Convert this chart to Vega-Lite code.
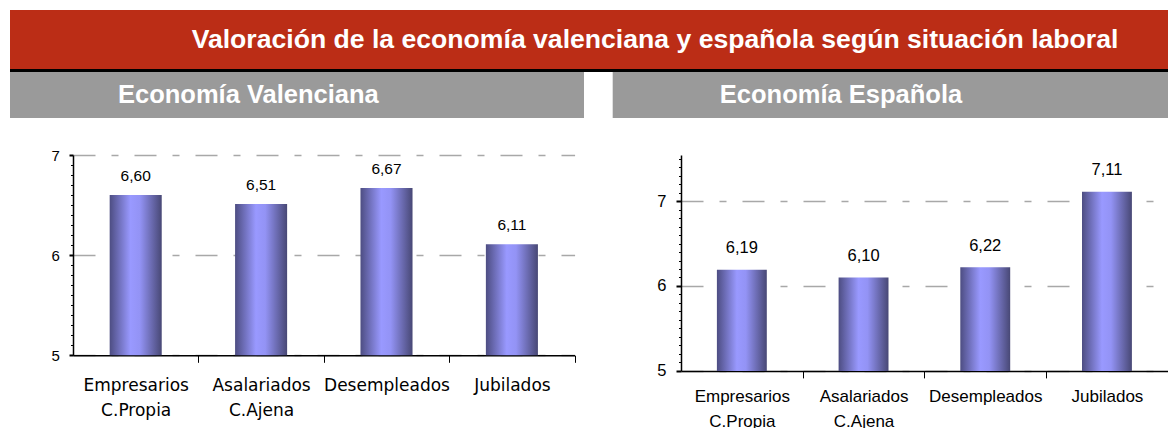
{
  "$schema": "https://vega.github.io/schema/vega-lite/v6.json",
  "padding": {"left": 10, "top": 10, "right": 0, "bottom": 0},
  "background": "white",
  "config": {"view": {"stroke": null}},
  "spacing": 0,
  "vconcat": [
    {
      "width": 1158, "height": 59,
      "view": {"fill": "#BB2D16", "stroke": null},
      "data": {"values": [{"t": "Valoración de la economía valenciana y española según situación laboral"}]},
      "mark": {"type": "text", "color": "white", "font": "Liberation Sans", "fontWeight": "bold", "fontSize": 26.6, "baseline": "alphabetic", "dx": 66, "dy": 8.8},
      "encoding": {"text": {"field": "t"}}
    },
    {
      "width": 1158, "height": 3,
      "view": {"fill": "#000000", "stroke": null},
      "data": {"values": []},
      "mark": {"type": "text", "text": ""},
      "encoding": {}
    },
    {
      "bounds": "flush",
      "spacing": 28.7,
      "hconcat": [
        {
          "width": 574, "height": 46,
          "view": {"fill": "#9A9A9A", "stroke": null},
          "data": {"values": [{"t": "Economía Valenciana"}]},
          "mark": {"type": "text", "color": "white", "font": "Liberation Sans", "fontWeight": "bold", "fontSize": 25.5, "align": "left", "baseline": "alphabetic", "dx": -179, "dy": 8.3},
          "encoding": {"text": {"field": "t"}}
        },
        {
          "width": 555.3, "height": 46,
          "view": {"fill": "#9A9A9A", "stroke": null},
          "data": {"values": [{"t": "Economía Española"}]},
          "mark": {"type": "text", "color": "white", "font": "Liberation Sans", "fontWeight": "bold", "fontSize": 25.5, "align": "left", "baseline": "alphabetic", "dx": -170.5, "dy": 8.3},
          "encoding": {"text": {"field": "t"}}
        }
      ]
    },
    {
      "width": 1, "height": 29.15,
      "view": {"fill": "transparent", "stroke": null},
      "data": {"values": []},
      "mark": {"type": "text", "text": ""},
      "encoding": {}
    },
    {
      "bounds": "flush",
      "spacing": 0,
      "hconcat": [
        {
          "width": 62.7, "height": 1,
          "view": {"fill": "transparent", "stroke": null},
          "data": {"values": []},
          "mark": {"type": "text", "text": ""},
          "encoding": {}
        },
        {
          "width": 501.6, "height": 200.3,
          "data": {"values": [
            {"cat": "Empresarios|C.Propia", "v": 6.60, "lab": "6,60"},
            {"cat": "Asalariados|C.Ajena", "v": 6.51, "lab": "6,51"},
            {"cat": "Desempleados", "v": 6.67, "lab": "6,67"},
            {"cat": "Jubilados", "v": 6.11, "lab": "6,11"}
          ]},
          "layer": [
            {
              "mark": {"type": "bar", "color": {"gradient": "linear", "x1": 0, "x2": 1, "y1": 0, "y2": 0, "stops": [{"offset": 0, "color": "#4d4d82"}, {"offset": 0.4, "color": "#9999ff"}, {"offset": 0.58, "color": "#9393f5"}, {"offset": 1, "color": "#484875"}]}},
              "encoding": {
                "x": {"field": "cat", "type": "nominal", "sort": null,
                  "scale": {"paddingInner": 0.585, "paddingOuter": 0.2925},
                  "axis": {"title": null, "labelExpr": "split(datum.label, '|')", "labelAngle": 0, "labelFont": "DejaVu Sans", "labelFontSize": 17, "labelColor": "#000000", "labelLineHeight": 25, "labelPadding": 15, "tickSize": 7, "tickColor": "#000000", "tickWidth": 1, "bandPosition": 1, "tickOffset": 36.68, "labelOffset": -36.68, "domainColor": "#000000", "domainWidth": 1.5, "grid": false, "labelOverlap": false}},
                "y": {"field": "v", "type": "quantitative",
                  "scale": {"domain": [5, 7], "nice": false, "zero": false},
                  "axis": {"title": null, "values": [5, 6, 7], "format": ".0f", "grid": true, "gridDash": [22, 16, 7, 16], "gridColor": "#a8a8a8", "gridWidth": 1.5, "tickSize": 4, "tickWidth": 2, "tickColor": "#000000", "domainColor": "#000000", "domainWidth": 1.5, "labelFont": "Liberation Sans", "labelFontSize": 15, "labelColor": "#000000", "labelPadding": 9.7}},
                "y2": {"datum": 5}
              }
            },
            {
              "mark": {"type": "text", "baseline": "middle", "dy": -19.5, "font": "Liberation Sans", "fontSize": 15.5, "color": "#000000"},
              "encoding": {
                "x": {"field": "cat", "type": "nominal", "sort": null},
                "y": {"field": "v", "type": "quantitative",
                  "axis": {"title": null, "orient": "left", "values": [5.1, 5.2, 5.3, 5.4, 5.5, 5.6, 5.7, 5.8, 5.9, 6.1, 6.2, 6.3, 6.4, 6.5, 6.6, 6.7, 6.8, 6.9], "labels": false, "domain": false, "grid": false, "tickSize": 2.5, "tickWidth": 1, "tickColor": "#000000"}},
                "text": {"field": "lab"}
              }
            }
          ],
          "resolve": {"axis": {"y": "independent"}}
        },
        {
          "width": 105.7, "height": 1,
          "view": {"fill": "transparent", "stroke": null},
          "data": {"values": []},
          "mark": {"type": "text", "text": ""},
          "encoding": {}
        },
        {
          "width": 486.8, "height": 215.9,
          "data": {"values": [
            {"cat": "Empresarios|C.Propia", "v": 6.19, "lab": "6,19"},
            {"cat": "Asalariados|C.Ajena", "v": 6.10, "lab": "6,10"},
            {"cat": "Desempleados", "v": 6.22, "lab": "6,22"},
            {"cat": "Jubilados", "v": 7.11, "lab": "7,11"}
          ]},
          "layer": [
            {
              "mark": {"type": "bar", "color": {"gradient": "linear", "x1": 0, "x2": 1, "y1": 0, "y2": 0, "stops": [{"offset": 0, "color": "#4d4d82"}, {"offset": 0.4, "color": "#9999ff"}, {"offset": 0.58, "color": "#9393f5"}, {"offset": 1, "color": "#484875"}]}},
              "encoding": {
                "x": {"field": "cat", "type": "nominal", "sort": null,
                  "scale": {"paddingInner": 0.59, "paddingOuter": 0.295},
                  "axis": {"title": null, "labelExpr": "split(datum.label, '|')", "labelAngle": 0, "labelFont": "Liberation Sans", "labelFontSize": 17, "labelColor": "#000000", "labelLineHeight": 25, "labelPadding": 11, "tickSize": 7, "tickColor": "#000000", "tickWidth": 1, "bandPosition": 1, "tickOffset": 35.9, "labelOffset": -35.9, "domainColor": "#000000", "domainWidth": 1.5, "grid": false, "labelOverlap": false}},
                "y": {"field": "v", "type": "quantitative",
                  "scale": {"domain": [5, 7.5424], "nice": false, "zero": false},
                  "axis": {"title": null, "values": [5, 6, 7], "format": ".0f", "grid": true, "gridDash": [22, 16, 7, 16], "gridColor": "#a8a8a8", "gridWidth": 1.5, "tickSize": 5, "tickWidth": 2, "tickColor": "#000000", "domainColor": "#000000", "domainWidth": 1.5, "labelFont": "Liberation Sans", "labelFontSize": 16.5, "labelColor": "#000000", "labelPadding": 10}},
                "y2": {"datum": 5}
              }
            },
            {
              "mark": {"type": "text", "baseline": "middle", "dy": -21.5, "font": "Liberation Sans", "fontSize": 16.5, "color": "#000000"},
              "encoding": {
                "x": {"field": "cat", "type": "nominal", "sort": null},
                "y": {"field": "v", "type": "quantitative",
                  "axis": {"title": null, "orient": "left", "values": [5.1, 5.2, 5.3, 5.4, 5.5, 5.6, 5.7, 5.8, 5.9, 6.1, 6.2, 6.3, 6.4, 6.5, 6.6, 6.7, 6.8, 6.9, 7.1, 7.2, 7.3, 7.4, 7.5], "labels": false, "domain": false, "grid": false, "tickSize": 2.5, "tickWidth": 1, "tickColor": "#000000"}},
                "text": {"field": "lab"}
              }
            }
          ],
          "resolve": {"axis": {"y": "independent"}}
        }
      ]
    }
  ]
}
